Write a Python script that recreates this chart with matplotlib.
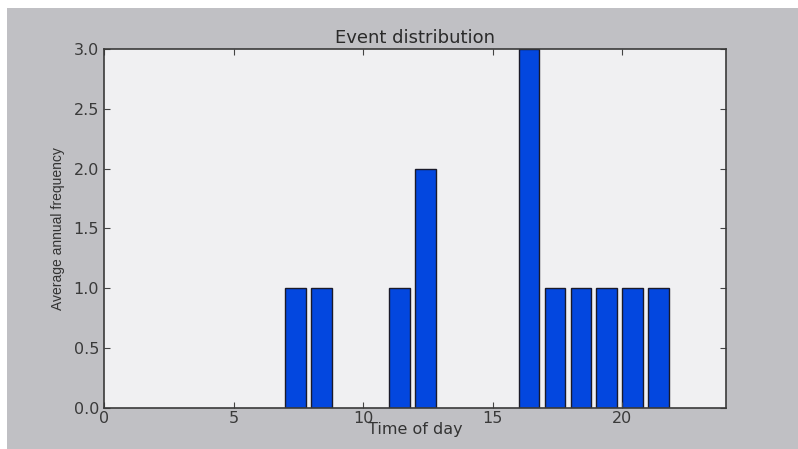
import matplotlib.pyplot as plt
from matplotlib.patches import Rectangle

# Hourly event counts (left edge of each hour bin)
hours = [7, 8, 11, 12, 16, 17, 18, 19, 20, 21]
freq = [1, 1, 1, 2, 3, 1, 1, 1, 1, 1]

fig = plt.figure(figsize=(7.98, 4.49), dpi=100, facecolor='white')

# grey backdrop inside a thin white frame
fig.patches.append(Rectangle((7 / 798, 0), 1, 1 - 8 / 449, transform=fig.transFigure,
                             facecolor='#c0c0c4', edgecolor='none', zorder=-10))

ax = fig.add_axes([0.1303, 0.0913, 0.7795, 0.7996])
ax.set_facecolor('#f0f0f2')

ax.bar(hours, freq, width=0.8, align='edge', color='#0347df', edgecolor='#1a1a2a', linewidth=1)

ax.set_xlim(0, 24)
ax.set_ylim(0, 3)
ax.set_xticks([0, 5, 10, 15, 20])
ax.set_yticks([0, 0.5, 1.0, 1.5, 2.0, 2.5, 3.0])
ax.set_yticklabels(['0.0', '0.5', '1.0', '1.5', '2.0', '2.5', '3.0'])

ax.tick_params(direction='in', length=4, top=True, right=True, colors='#444444',
               labelsize=11.5, labelcolor='#3a3a3a')
ax.tick_params(axis='x', pad=2)
for s in ax.spines.values():
    s.set_color('#3a3a3a')
    s.set_linewidth(1.2)

ax.set_title('Event distribution', fontsize=13, color='#2a2a2a', pad=4)
ax.set_xlabel('Time of day', fontsize=11.5, color='#333333', labelpad=-3)
ax.set_ylabel('Average annual frequency', fontsize=10, color='#333333',
              family=['Liberation Sans', 'DejaVu Sans'], labelpad=6)

fig.savefig('out.png', dpi=100, facecolor=fig.get_facecolor())
